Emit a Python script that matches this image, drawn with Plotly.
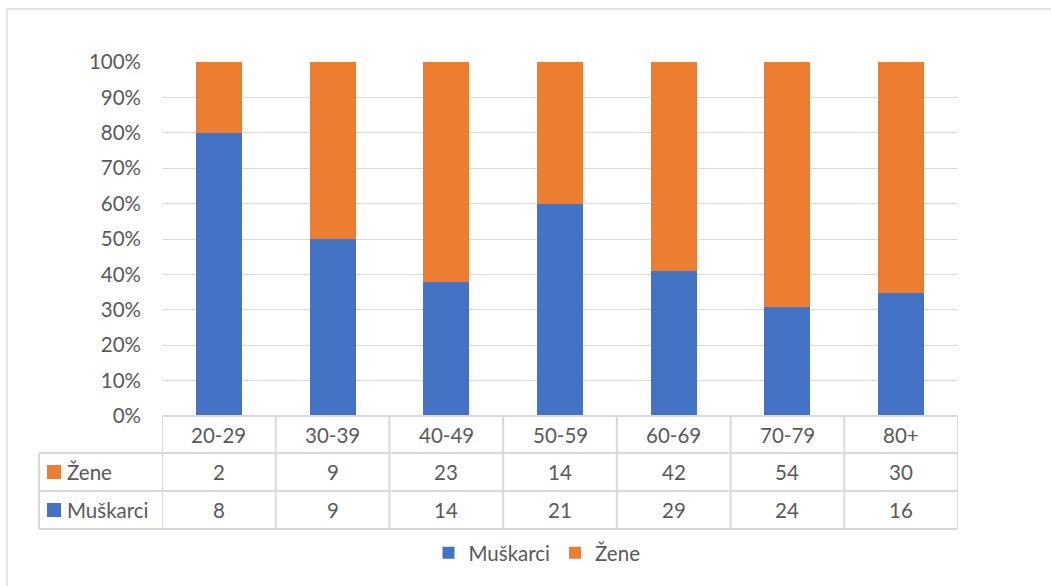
import plotly.graph_objects as go

categories = ["20-29", "30-39", "40-49", "50-59", "60-69", "70-79", "80+"]
muskarci = [8, 9, 14, 21, 29, 24, 16]
zene = [2, 9, 23, 14, 42, 54, 30]
y_ticks = [0, 10, 20, 30, 40, 50, 60, 70, 80, 90, 100]
y_tick_labels = [f"{v}%" for v in y_ticks]

BLUE = "#4472C4"
ORANGE = "#ED7D31"
TXT = "#595959"
GRID = "#D9D9D9"
FONT = "Lato"
FS = 20.5

W, H = 1051, 586
L, R, T, B = 162, 958, 62, 416  # plot area pixels

def px(xp):
    return (xp - L) / (R - L)

def py(yp):
    return (B - yp) / (B - T)

xs = list(range(len(categories)))

fig = go.Figure()
fig.add_trace(go.Bar(x=xs, y=muskarci, name="Muškarci", marker=dict(color=BLUE, line=dict(width=0)), width=0.405))
fig.add_trace(go.Bar(x=xs, y=zene, name="Žene", marker=dict(color=ORANGE, line=dict(width=0)), width=0.405))

shapes = []
annotations = []

# chart border
shapes.append(dict(type="rect", xref="paper", yref="paper", x0=px(7), x1=px(1060), y0=py(600), y1=py(9),
                   line=dict(color=GRID, width=1.3), layer="below"))

row_lines = [416, 453, 491, 529]
n = len(categories)
# horizontal lines of table
shapes.append(dict(type="line", xref="paper", yref="paper", x0=0, x1=1, y0=py(row_lines[0]), y1=py(row_lines[0]),
                   line=dict(color=GRID, width=2)))
for yl in row_lines[1:]:
    shapes.append(dict(type="line", xref="paper", yref="paper", x0=px(39), x1=1, y0=py(yl), y1=py(yl),
                       line=dict(color=GRID, width=2)))
# vertical lines
for i in range(n + 1):
    shapes.append(dict(type="line", xref="x", yref="paper", x0=i - 0.5, x1=i - 0.5,
                       y0=py(row_lines[3]), y1=py(row_lines[0]), line=dict(color=GRID, width=2)))
shapes.append(dict(type="line", xref="paper", yref="paper", x0=px(39), x1=px(39),
                   y0=py(row_lines[3]), y1=py(row_lines[1]), line=dict(color=GRID, width=2)))

def row_center(k):
    return py((row_lines[k] + row_lines[k + 1]) / 2)

tf = dict(family=FONT, size=FS, color=TXT)
for i, c in enumerate(categories):
    for k, txt in enumerate([c, str(zene[i]), str(muskarci[i])]):
        annotations.append(dict(x=i, y=row_center(k), xref="x", yref="paper", text=txt, showarrow=False,
                                xanchor="center", yanchor="middle", font=tf))

# row headers with keys
for k, (name, col) in enumerate([("Žene", ORANGE), ("Muškarci", BLUE)], start=1):
    yc = (row_lines[k] + row_lines[k + 1]) / 2
    shapes.append(dict(type="rect", xref="paper", yref="paper", x0=px(47), x1=px(61), y0=py(yc + 7), y1=py(yc - 7),
                       fillcolor=col, line=dict(width=0)))
    annotations.append(dict(x=px(65), y=py(yc), xref="paper", yref="paper", text=name, showarrow=False,
                            xanchor="left", yanchor="middle", font=tf))

fig.update_layout(
    width=W, height=H,
    margin=dict(l=L, r=W - R, t=T, b=H - B),
    paper_bgcolor="white", plot_bgcolor="white",
    barmode="stack", barnorm="percent",
    font=tf,
    xaxis=dict(range=[-0.5, n - 0.5], showticklabels=False, showgrid=False, zeroline=False, showline=False,
               fixedrange=True),
    yaxis=dict(range=[0, 100], tickmode="array", tickvals=y_ticks, ticktext=y_tick_labels, showgrid=True,
               gridcolor=GRID, gridwidth=1.3, zeroline=False, showline=False, ticklabelstandoff=20, tickfont=tf),
    legend=dict(orientation="h", x=px(537), xanchor="center", y=py(553), yanchor="middle",
                font=tf, itemwidth=30, traceorder="normal"),
    shapes=shapes, annotations=annotations, showlegend=True,
)

fig.write_html("out.html", post_script="document.body.style.margin='0px';",
               config={"displayModeBar": False})
